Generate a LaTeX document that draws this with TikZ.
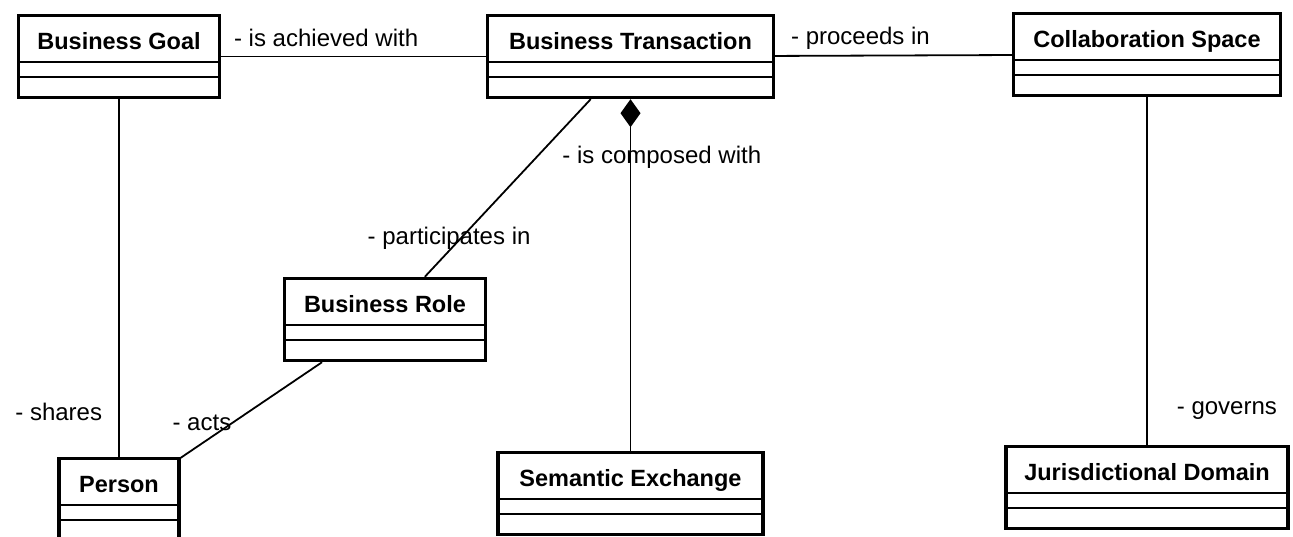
\documentclass[tikz,border=0pt]{standalone}
\usepackage{fontspec}
\setmainfont{Liberation Sans}
\usetikzlibrary{arrows.meta,positioning}

\begin{document}
\begin{tikzpicture}[x=1pt,y=-1pt,on grid,
    umlclass/.style={draw, line width=3.4pt, minimum height=82pt, inner sep=0pt,
        text height=18pt, text depth=33pt,
        font=\bfseries\fontsize{23.5}{28}\selectfont,
        path picture={
            \draw[line width=2pt] ([yshift=-46.5pt]path picture bounding box.north west)
                -- ([yshift=-46.5pt]path picture bounding box.north east);
            \draw[line width=2pt] ([yshift=-61.5pt]path picture bounding box.north west)
                -- ([yshift=-61.5pt]path picture bounding box.north east);
        }},
    rolename/.style={font=\fontsize{24}{28}\selectfont, inner sep=0pt},
    assoc/.style={line width=1.8pt}]
            \useasboundingbox (0,0) rectangle (1293,536);
            \node[umlclass, minimum width=201pt] (b_goal) at (119,56.5) {Business Goal};
            \node[umlclass, minimum width=286pt] (b_trans) [right=511.5pt of b_goal] {Business Transaction};
            \node[umlclass, minimum width=267pt, yshift=2pt] (c_space) [right=516.5pt of b_trans] {Collaboration Space};
            \node[umlclass, minimum width=201pt] (b_role) at (385,319.5) {Business Role};
            \node[umlclass, minimum width=120pt] (person) [below=443pt of b_goal] {Person};
            \node[umlclass, minimum width=265pt] (s_exch) [below=437pt of b_trans] {Semantic Exchange};
            \node[umlclass, minimum width=282pt] (j_domain) [below=433pt of c_space] {Jurisdictional Domain};
            \path[assoc]
                (b_goal)
                    edge node[rolename, pos=0, anchor=base west, xshift=12pt, yshift=10.5pt] {- is achieved with} (b_trans)
                    edge node[rolename, pos=1, anchor=base east, xshift=-16pt, yshift=36pt] {- shares} (person)
                (b_trans)
                    edge node[rolename, pos=0, anchor=base west, xshift=15pt, yshift=11pt] {- proceeds in} (c_space)
                    edge node[rolename, pos=1, anchor=base west, xshift=-58pt, yshift=32pt] {- participates in} (b_role)
                    edge [{Diamond[length=28pt,width=20pt]}-] node[rolename, pos=0, anchor=base west, xshift=-69pt, yshift=-64pt] {- is composed with} (s_exch)
                (b_role)
                    edge node[rolename, pos=1, anchor=base west, xshift=-9pt, yshift=27pt] {- acts} (person)
                (c_space)
                    edge node[rolename, pos=1, anchor=base west, xshift=29pt, yshift=30pt] {- governs} (j_domain);
        \end{tikzpicture}
\end{document}
